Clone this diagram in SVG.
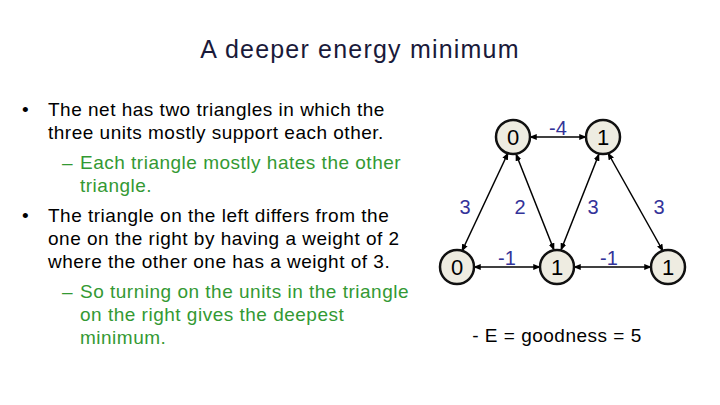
<svg xmlns="http://www.w3.org/2000/svg" width="720" height="405" viewBox="0 0 720 405">
<defs>
<marker id="a" viewBox="0 0 10 10" refX="9" refY="5" markerWidth="5" markerHeight="5" orient="auto-start-reverse"><path d="M0,1 L10,5 L0,9 z" fill="#000"/></marker>
<style>
text{font-family:"Liberation Sans",Arial,sans-serif}
.t{font-size:19px;fill:#000;letter-spacing:0.5px}
.g{font-size:19px;fill:#339933;letter-spacing:0.5px}
.w{font-size:20px;fill:#333399;text-anchor:middle}
.n circle{fill:#eeece1;stroke:#111;stroke-width:2.5}
.n text{font-size:22px;text-anchor:middle;fill:#000}
.e line{stroke:#000;stroke-width:1.5;marker-start:url(#a);marker-end:url(#a)}
</style>
</defs>
<rect width="720" height="405" fill="#fff"/>
<text x="360" y="58" font-size="25" letter-spacing="1.2" text-anchor="middle" fill="#1a1a3a">A deeper energy minimum</text>
<g id="text">
<text class="t" x="22" y="116">•</text>
<text class="t" x="48" y="116">The net has two triangles in which the</text>
<text class="t" x="48" y="139">three units mostly support each other.</text>
<text class="g" x="62" y="169">–</text>
<text class="g" x="80" y="169">Each triangle mostly hates the other</text>
<text class="g" x="80" y="192">triangle.</text>
<text class="t" x="22" y="222">•</text>
<text class="t" x="48" y="222">The triangle on the left differs from the</text>
<text class="t" x="48" y="245">one on the right by having a weight of 2</text>
<text class="t" x="48" y="268">where the other one has a weight of 3.</text>
<text class="g" x="62" y="298">–</text>
<text class="g" x="80" y="298">So turning on the units in the triangle</text>
<text class="g" x="80" y="321">on the right gives the deepest</text>
<text class="g" x="80" y="344">minimum.</text>
</g>
<g id="edges" class="e">
<line x1="530" y1="137" x2="586" y2="137"/>
<line x1="508" y1="153" x2="462" y2="251"/>
<line x1="516" y1="154" x2="554" y2="250"/>
<line x1="599" y1="154" x2="561" y2="250"/>
<line x1="608" y1="153" x2="663" y2="251"/>
<line x1="474" y1="267" x2="540" y2="267"/>
<line x1="574" y1="267" x2="651" y2="267"/>
</g>
<g id="weights">
<text class="w" x="558" y="135">-4</text>
<text class="w" x="465" y="214">3</text>
<text class="w" x="520" y="214">2</text>
<text class="w" x="593" y="214">3</text>
<text class="w" x="659" y="214">3</text>
<text class="w" x="507" y="265">-1</text>
<text class="w" x="609" y="265">-1</text>
</g>
<g id="n1" class="n"><circle cx="513" cy="137" r="17"/><text x="513" y="145">0</text></g>
<g id="n2" class="n"><circle cx="603" cy="137" r="17"/><text x="603" y="145">1</text></g>
<g id="n3" class="n"><circle cx="457" cy="267" r="17"/><text x="457" y="275">0</text></g>
<g id="n4" class="n"><circle cx="557" cy="267" r="17"/><text x="557" y="275">1</text></g>
<g id="n5" class="n"><circle cx="668" cy="267" r="17"/><text x="668" y="275">1</text></g>
<text x="557" y="342" font-size="19" letter-spacing="0.5" text-anchor="middle">- E = goodness = 5</text>
</svg>
